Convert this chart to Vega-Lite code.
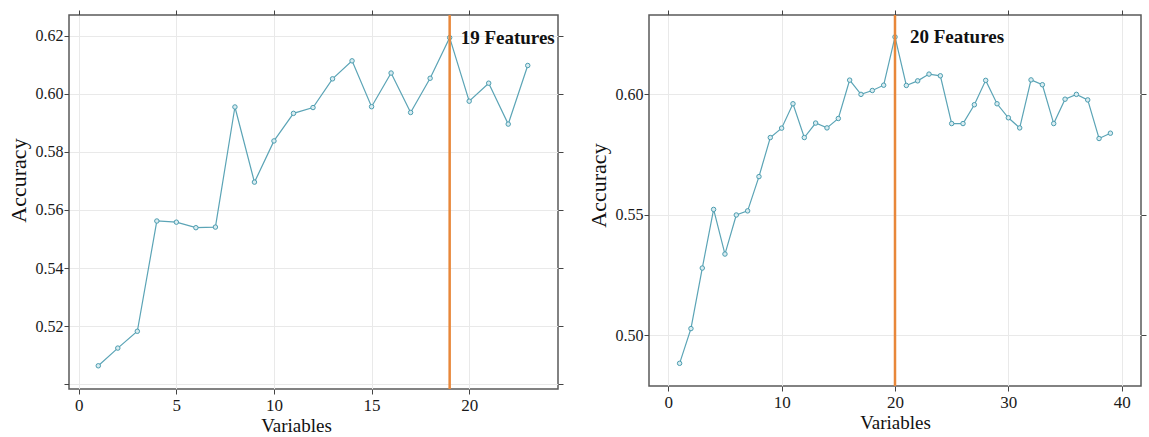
{
  "$schema": "https://vega.github.io/schema/vega-lite/v6.json",
  "background": "white",
  "padding": {"left": 6, "top": 8, "right": 1, "bottom": 0},
  "spacing": 21,
  "config": {
    "font": "Liberation Serif",
    "view": {"stroke": "#5a5a5a", "strokeWidth": 1.5},
    "axis": {
      "domain": false,
      "labelFont": "Liberation Serif",
      "titleFont": "Liberation Serif",
      "titleFontWeight": "normal",
      "labelColor": "#1a1a1a",
      "titleColor": "#111111",
      "tickColor": "#444444",
      "tickSize": 5,
      "gridColor": "#e9e9e9",
      "gridWidth": 1
    },
    "axisX": {"labelFontSize": 17, "titleFontSize": 19, "labelPadding": 3, "titlePadding": 3},
    "axisY": {"labelFontSize": 16, "titleFontSize": 22, "labelPadding": 1, "titlePadding": 5}
  },
  "datasets": {
    "left": [
      {"Variables": 1, "Accuracy": 0.5063},
      {"Variables": 2, "Accuracy": 0.5124},
      {"Variables": 3, "Accuracy": 0.5182},
      {"Variables": 4, "Accuracy": 0.5562},
      {"Variables": 5, "Accuracy": 0.5558},
      {"Variables": 6, "Accuracy": 0.5539},
      {"Variables": 7, "Accuracy": 0.5541},
      {"Variables": 8, "Accuracy": 0.5955},
      {"Variables": 9, "Accuracy": 0.5696},
      {"Variables": 10, "Accuracy": 0.5838},
      {"Variables": 11, "Accuracy": 0.5933},
      {"Variables": 12, "Accuracy": 0.5953},
      {"Variables": 13, "Accuracy": 0.6052},
      {"Variables": 14, "Accuracy": 0.6114},
      {"Variables": 15, "Accuracy": 0.5956},
      {"Variables": 16, "Accuracy": 0.6072},
      {"Variables": 17, "Accuracy": 0.5936},
      {"Variables": 18, "Accuracy": 0.6054},
      {"Variables": 19, "Accuracy": 0.6194},
      {"Variables": 20, "Accuracy": 0.5975},
      {"Variables": 21, "Accuracy": 0.6037},
      {"Variables": 22, "Accuracy": 0.5896},
      {"Variables": 23, "Accuracy": 0.6098}
    ],
    "right": [
      {"Variables": 1, "Accuracy": 0.4884},
      {"Variables": 2, "Accuracy": 0.5028},
      {"Variables": 3, "Accuracy": 0.5279},
      {"Variables": 4, "Accuracy": 0.5522},
      {"Variables": 5, "Accuracy": 0.5337},
      {"Variables": 6, "Accuracy": 0.5499},
      {"Variables": 7, "Accuracy": 0.5516},
      {"Variables": 8, "Accuracy": 0.5658},
      {"Variables": 9, "Accuracy": 0.5820},
      {"Variables": 10, "Accuracy": 0.5859},
      {"Variables": 11, "Accuracy": 0.5960},
      {"Variables": 12, "Accuracy": 0.5820},
      {"Variables": 13, "Accuracy": 0.5880},
      {"Variables": 14, "Accuracy": 0.5860},
      {"Variables": 15, "Accuracy": 0.5899},
      {"Variables": 16, "Accuracy": 0.6058},
      {"Variables": 17, "Accuracy": 0.5999},
      {"Variables": 18, "Accuracy": 0.6015},
      {"Variables": 19, "Accuracy": 0.6037},
      {"Variables": 20, "Accuracy": 0.6237},
      {"Variables": 21, "Accuracy": 0.6036},
      {"Variables": 22, "Accuracy": 0.6055},
      {"Variables": 23, "Accuracy": 0.6083},
      {"Variables": 24, "Accuracy": 0.6076},
      {"Variables": 25, "Accuracy": 0.5878},
      {"Variables": 26, "Accuracy": 0.5878},
      {"Variables": 27, "Accuracy": 0.5956},
      {"Variables": 28, "Accuracy": 0.6057},
      {"Variables": 29, "Accuracy": 0.5960},
      {"Variables": 30, "Accuracy": 0.5902},
      {"Variables": 31, "Accuracy": 0.5860},
      {"Variables": 32, "Accuracy": 0.6059},
      {"Variables": 33, "Accuracy": 0.6039},
      {"Variables": 34, "Accuracy": 0.5878},
      {"Variables": 35, "Accuracy": 0.5979},
      {"Variables": 36, "Accuracy": 0.5999},
      {"Variables": 37, "Accuracy": 0.5976},
      {"Variables": 38, "Accuracy": 0.5816},
      {"Variables": 39, "Accuracy": 0.5838}
    ],
    "leftBest": [{"Variables": 19, "Accuracy": 0.6195, "label": "19 Features"}],
    "rightBest": [{"Variables": 20, "Accuracy": 0.6240, "label": "20 Features"}]
  },
  "hconcat": [
    {
      "width": 489,
      "height": 374,
      "layer": [
        {
          "data": {"name": "left"},
          "mark": {"type": "line", "color": "#5ba4b6", "strokeWidth": 1.2,
                   "point": {"shape": "circle", "size": 20, "filled": true, "fill": "#d9ecf1", "stroke": "#4c9db0", "strokeWidth": 1, "opacity": 1}},
          "encoding": {
            "x": {"field": "Variables", "type": "quantitative",
                  "scale": {"domain": [-0.5, 24.55], "nice": false, "zero": false},
                  "axis": {"orient": "bottom", "values": [0, 5, 10, 15, 20], "title": "Variables", "titleX": 227}},
            "y": {"field": "Accuracy", "type": "quantitative",
                  "scale": {"domain": [0.4983, 0.6272], "nice": false, "zero": false},
                  "axis": {"orient": "left", "values": [0.5, 0.52, 0.54, 0.56, 0.58, 0.6, 0.62],
                           "labelExpr": "datum.value < 0.505 ? '' : format(datum.value, '.2f')",
                           "title": "Accuracy", "titleY": 165}}
          }
        },
        {
          "data": {"name": "leftBest"},
          "mark": {"type": "rule", "color": "#e8873a", "strokeWidth": 2.5},
          "encoding": {
            "x": {"field": "Variables", "type": "quantitative",
                  "axis": {"orient": "top", "values": [0, 5, 10, 15, 20], "labels": false, "grid": false, "title": null}}
          }
        },
        {
          "data": {"name": "leftBest"},
          "mark": {"type": "text", "align": "left", "baseline": "middle", "dx": 11, "dy": 1, "fontSize": 19, "fontWeight": "bold", "font": "Liberation Serif", "color": "#111111"},
          "encoding": {
            "x": {"field": "Variables", "type": "quantitative", "axis": null},
            "y": {"field": "Accuracy", "type": "quantitative",
                  "axis": {"orient": "right", "values": [0.5, 0.52, 0.54, 0.56, 0.58, 0.6, 0.62], "labels": false, "grid": false, "title": null}},
            "text": {"field": "label"}
          }
        }
      ],
      "resolve": {"axis": {"x": "independent", "y": "independent"}}
    },
    {
      "width": 492,
      "height": 371,
      "layer": [
        {
          "data": {"name": "right"},
          "mark": {"type": "line", "color": "#5ba4b6", "strokeWidth": 1.2,
                   "point": {"shape": "circle", "size": 20, "filled": true, "fill": "#d9ecf1", "stroke": "#4c9db0", "strokeWidth": 1, "opacity": 1}},
          "encoding": {
            "x": {"field": "Variables", "type": "quantitative",
                  "scale": {"domain": [-1.7, 41.7], "nice": false, "zero": false},
                  "axis": {"orient": "bottom", "values": [0, 10, 20, 30, 40], "title": "Variables"}},
            "y": {"field": "Accuracy", "type": "quantitative",
                  "scale": {"domain": [0.479, 0.6328], "nice": false, "zero": false},
                  "axis": {"orient": "left", "values": [0.5, 0.55, 0.6], "format": ".2f",
                           "title": "Accuracy", "titleY": 170}}
          }
        },
        {
          "data": {"name": "rightBest"},
          "mark": {"type": "rule", "color": "#e8873a", "strokeWidth": 2.5},
          "encoding": {
            "x": {"field": "Variables", "type": "quantitative",
                  "axis": {"orient": "top", "values": [0, 10, 20, 30, 40], "labels": false, "grid": false, "title": null}}
          }
        },
        {
          "data": {"name": "rightBest"},
          "mark": {"type": "text", "align": "left", "baseline": "middle", "dx": 15, "dy": 1, "fontSize": 19, "fontWeight": "bold", "font": "Liberation Serif", "color": "#111111"},
          "encoding": {
            "x": {"field": "Variables", "type": "quantitative", "axis": null},
            "y": {"field": "Accuracy", "type": "quantitative",
                  "axis": {"orient": "right", "values": [0.5, 0.55, 0.6], "labels": false, "grid": false, "title": null}},
            "text": {"field": "label"}
          }
        }
      ],
      "resolve": {"axis": {"x": "independent", "y": "independent"}}
    }
  ]
}
